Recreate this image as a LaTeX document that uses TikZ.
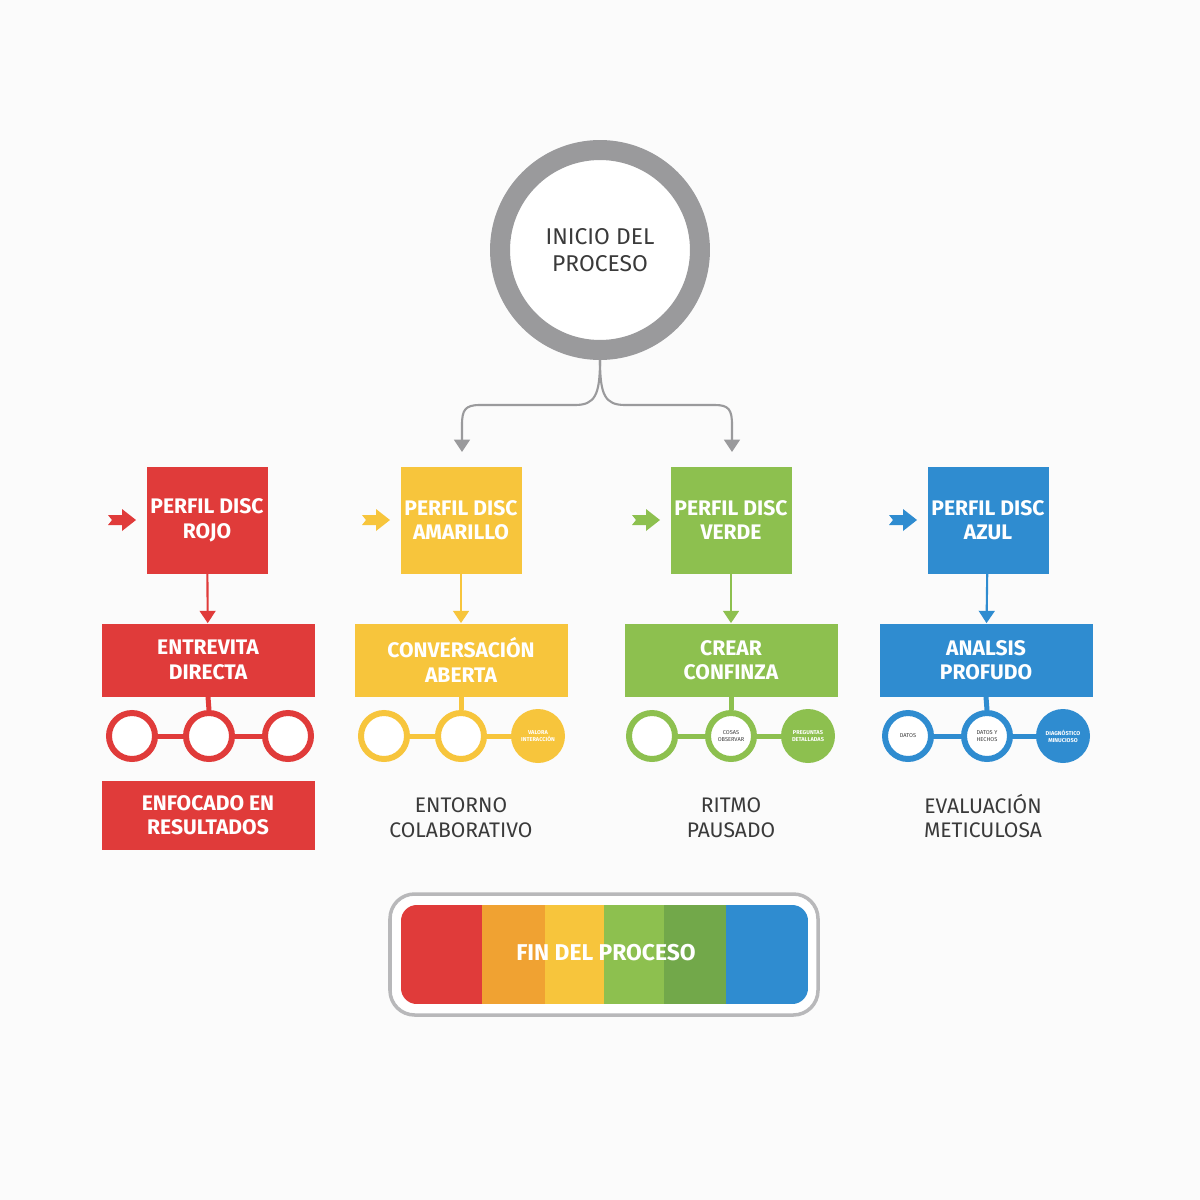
\documentclass[tikz,border=0pt]{standalone}
\usepackage{fontspec}
\setmainfont{Fira Sans}
\usetikzlibrary{arrows.meta,calc}
\definecolor{cr}{HTML}{E03B3A}
\definecolor{cy}{HTML}{F7C53C}
\definecolor{cg}{HTML}{8DC04F}
\definecolor{cb}{HTML}{2F8CD0}
\definecolor{co}{HTML}{F0A232}
\definecolor{cg2}{HTML}{72A84A}
\definecolor{gr}{HTML}{9A9A9C}
\definecolor{tx}{HTML}{3A3A3A}
\tikzset{
 box/.style={fill=#1,inner sep=0,align=center,text=white,font=\fontsize{12}{14}\selectfont\bfseries},
 ring/.style={draw=#1,line width=0.12cm,fill=white,circle,minimum size=0.92cm,inner sep=0,font=\fontsize{3.2}{4}\selectfont,text=tx,align=center},
 dot/.style={fill=#1,circle,minimum size=1.08cm,inner sep=0,font=\fontsize{3.2}{4}\selectfont\bfseries,text=white,align=center},
 lbl/.style={align=center,text=tx,font=\fontsize{12}{14}\selectfont},
 arr/.style={draw=#1,line width=1.2pt,-{Triangle[length=7pt,width=9pt]}},
}
\begin{document}
\begin{tikzpicture}[x=0.02cm,y=-0.02cm]
\fill[white!97!gray] (0,0) rectangle (1200,1200);
\useasboundingbox (0,0) rectangle (1200,1200);
% start
\node[circle,draw=gr,line width=0.4cm,fill=white,minimum size=4cm,inner sep=0,align=center,text=tx,font=\fontsize{13}{15}\selectfont] (start) at (600,250) {INICIO DEL\\PROCESO};
\coordinate (split) at (600,360);
% top boxes
\foreach \n/\c/\x/\t in {r/cr/207/ROJO,y/cy/461/AMARILLO,g/cg/731/VERDE,b/cb/988/AZUL}{
  \node[box=\c,minimum width=121*0.02cm,minimum height=107*0.02cm] (t\n) at (\x,520) {PERFIL DISC\\\t};
  \fill[\c] ($(\x,520)+(-99,-5)$) -- ++(14,0) -- ++(0,-6) -- ++(14,11) -- ++(-14,11) -- ++(0,-6) -- ++(-14,0) -- ++(4,-5) -- cycle;
}
\node[box=cr,minimum width=213*0.02cm,minimum height=73*0.02cm] (mr) at (208,660) {ENTREVITA\\DIRECTA};
\node[box=cy,minimum width=213*0.02cm,minimum height=73*0.02cm] (my) at (461,660) {CONVERSACIÓN\\ABERTA};
\node[box=cg,minimum width=213*0.02cm,minimum height=73*0.02cm] (mg) at (731,660) {CREAR\\CONFINZA};
\node[box=cb,minimum width=213*0.02cm,minimum height=73*0.02cm] (mb) at (986,660) {ANALSIS\\PROFUDO};
\foreach \n/\c in {r/cr,y/cy,g/cg,b/cb}{\draw[arr=\c] (t\n) -- (m\n);}
% split connector
\draw[gr,line width=1.2pt] (start.south) -- (split);
\draw[gr,line width=1.2pt,-{Triangle[length=7pt,width=9pt]}] (split) .. controls (600,395) and (595,405) .. (575,405) -- (480,405) .. controls (465,405) and (462,410) .. (462,425) -- (462,452);
\draw[gr,line width=1.2pt,-{Triangle[length=7pt,width=9pt]}] (split) .. controls (600,395) and (605,405) .. (625,405) -- (715,405) .. controls (729,405) and (732,410) .. (732,425) -- (732,452);
% circles
\draw[cr,line width=0.1cm] (132,736) -- (288,736);
\draw[cy,line width=0.1cm] (384,736) -- (538,736);
\draw[cg,line width=0.1cm] (652,736) -- (808,736);
\draw[cb,line width=0.1cm] (908,736) -- (1063,736);
\node[ring=cr] (r1) at (132,736) {}; \node[ring=cr] (r2) at (209,736) {}; \node[ring=cr] (r3) at (288,736) {};
\node[ring=cy] (y1) at (384,736) {}; \node[ring=cy] (y2) at (461,736) {}; \node[dot=cy] (y3) at (538,736) {VALORA\\INTERACCIÓN};
\node[ring=cg] (g1) at (652,736) {}; \node[ring=cg] (g2) at (731,736) {COSAS\\OBSERVAR}; \node[dot=cg] (g3) at (808,736) {PREGUNTAS\\DETALLADAS};
\node[ring=cb] (b1) at (908,736) {DATOS}; \node[ring=cb] (b2) at (987,736) {DATOS Y\\HECHOS}; \node[dot=cb] (b3) at (1063,736) {DIAGNÓSTICO\\MINUCIOSO};
\draw[cr,line width=0.1cm] (mr.south) -- (r2.north);
\draw[cy,line width=0.1cm] (my.south) -- (y2.north);
\draw[cg,line width=0.1cm] (mg.south) -- (g2.north);
\draw[cb,line width=0.1cm] (mb.south) -- (b2.north);
% bottom labels
\node[box=cr,minimum width=213*0.02cm,minimum height=69*0.02cm] (br) at (208,815) {ENFOCADO EN\\RESULTADOS};
\node[lbl] (by) at (461,818) {ENTORNO\\COLABORATIVO};
\node[lbl] (bg) at (731,818) {RITMO\\PAUSADO};
\node[lbl] (bb) at (983,816) {EVALUACIÓN\\METICULOSA};
% end bar
\draw[gr!70,line width=2pt,fill=white,rounded corners=14pt] (390,894) rectangle (818,1015);
\begin{scope}
\clip[rounded corners=9pt] (401,905) rectangle (808,1004);
\fill[cr] (401,905) rectangle (482,1004);
\fill[co] (482,905) rectangle (545,1004);
\fill[cy] (545,905) rectangle (604,1004);
\fill[cg] (604,905) rectangle (664,1004);
\fill[cg2] (664,905) rectangle (726,1004);
\fill[cb] (726,905) rectangle (808,1004);
\end{scope}
\node[text=white,font=\fontsize{13}{15}\selectfont\bfseries] (end) at (606,953) {FIN DEL PROCESO};
\end{tikzpicture}
\end{document}
